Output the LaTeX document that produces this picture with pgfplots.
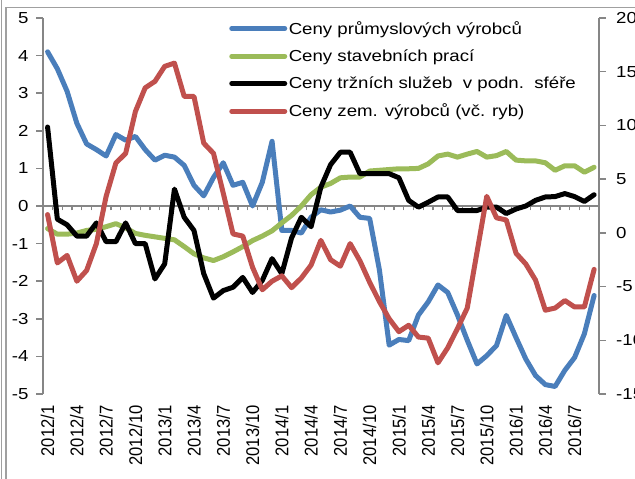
\documentclass[border=0pt]{standalone}
\usepackage{fontspec}
\setmainfont{Liberation Sans}[FakeStretch=1.17]
\newfontfamily\xlabfont{Liberation Sans}[FakeStretch=0.9]
\usepackage{pgfplots}
\pgfplotsset{compat=1.18}
\usepackage{pgfplotstable}
\definecolor{cblue}{RGB}{74,126,187}
\definecolor{cgreen}{RGB}{155,187,89}
\definecolor{cred}{RGB}{192,80,77}
\definecolor{caxis}{RGB}{134,134,134}
\definecolor{cframe}{RGB}{160,160,160}
\pgfplotstableread{
i blue green black red
0 4.10 -0.60 2.10 1.7
1 3.65 -0.75 -0.35 -2.8
2 3.05 -0.75 -0.50 -2.1
3 2.20 -0.72 -0.80 -4.5
4 1.65 -0.65 -0.80 -3.5
5 1.50 -0.62 -0.45 -1.0
6 1.33 -0.55 -0.95 3.4
7 1.90 -0.47 -0.95 6.5
8 1.75 -0.58 -0.45 7.4
9 1.85 -0.73 -1.00 11.3
10 1.50 -0.78 -1.00 13.5
11 1.22 -0.82 -1.94 14.1
12 1.35 -0.86 -1.54 15.5
13 1.30 -0.90 0.45 15.8
14 1.08 -1.08 -0.30 12.7
15 0.55 -1.27 -0.65 12.7
16 0.27 -1.38 -1.80 8.35
17 0.76 -1.45 -2.45 7.4
18 1.15 -1.35 -2.25 3.7
19 0.55 -1.22 -2.16 -0.1
20 0.63 -1.08 -1.90 -0.3
21 0.00 -0.92 -2.30 -3.2
22 0.63 -0.80 -1.98 -5.3
23 1.72 -0.66 -1.40 -4.5
24 -0.65 -0.45 -1.80 -4.0
25 -0.65 -0.25 -0.85 -5.1
26 -0.72 0.00 -0.30 -4.2
27 -0.30 0.30 -0.55 -3.0
28 -0.10 0.50 0.50 -0.7
29 -0.16 0.60 1.10 -2.5
30 -0.11 0.75 1.43 -3.1
31 0.00 0.77 1.43 -1.0
32 -0.30 0.77 0.86 -2.6
33 -0.33 0.93 0.86 -4.6
34 -1.70 0.95 0.86 -6.4
35 -3.70 0.97 0.86 -8.0
36 -3.55 0.99 0.75 -9.2
37 -3.58 0.99 0.15 -8.6
38 -2.90 1.00 -0.03 -9.7
39 -2.55 1.12 0.10 -9.8
40 -2.10 1.33 0.24 -12.1
41 -2.30 1.38 0.24 -10.7
42 -2.90 1.30 -0.12 -8.9
43 -3.57 1.38 -0.12 -7.0
44 -4.20 1.45 -0.12 -1.8
45 -3.98 1.30 -0.03 3.4
46 -3.71 1.34 -0.03 1.4
47 -2.91 1.45 -0.20 1.2
48 -3.50 1.22 -0.08 -1.9
49 -4.07 1.20 0.00 -2.9
50 -4.51 1.20 0.15 -4.4
51 -4.75 1.15 0.24 -7.2
52 -4.80 0.95 0.25 -7.0
53 -4.37 1.07 0.33 -6.3
54 -4.03 1.07 0.25 -6.9
55 -3.40 0.90 0.12 -6.9
56 -2.38 1.03 0.30 -3.4
}\data
\pgfplotsset{
  base/.style={
    scale only axis, width=556.3bp, height=376bp,
    at={(42.7bp,85bp)}, anchor=south west,
    xmin=-0.5, xmax=56.5,
    tick label style={font=\fontsize{16}{19}\selectfont},
  },
  serie/.style={line width=5bp, line join=round, line cap=round, mark=none},
}
\begin{document}
\begin{tikzpicture}
% frame
\draw[cframe, line width=1.2bp] (1.7bp,0bp) -- (1.7bp,479bp);
\draw[cframe, line width=1.2bp] (6bp,0bp) -- (6bp,471.5bp) -- (640bp,471.5bp);
% zero line with month ticks
\begin{axis}[base, ymin=-5, ymax=5,
  axis x line=middle, axis y line=none,
  axis line style={caxis, line width=2bp, -},
  xtick={-0.5,0.5,...,56.5}, xticklabels={},
  xtick align=outside, major tick length=4.5bp,
  xtick style={caxis, line width=1.3bp}]
\end{axis}
% left axis
\begin{axis}[base, ymin=-5, ymax=5,
  axis x line*=bottom, x axis line style={draw=none},
  xtick={0,3,...,54},
  xticklabels={2012/1,2012/4,2012/7,2012/10,2013/1,2013/4,2013/7,2013/10,2014/1,2014/4,2014/7,2014/10,2015/1,2015/4,2015/7,2015/10,2016/1,2016/4,2016/7},
  xtick style={draw=none},
  xticklabel style={font=\xlabfont\fontsize{18.5}{20}\selectfont, rotate=90, anchor=east},
  xticklabel shift=8bp,
  axis y line*=left, y axis line style={caxis, line width=2bp},
  ytick={-5,...,5},
  yticklabels={-5,-4,-3,-2,-1,0,1,2,3,4,5},
  ytick align=outside, major tick length=6.7bp,
  ytick style={caxis, line width=1.5bp},
  yticklabel shift=4bp]
\addplot[serie, cblue] table[x=i, y=blue] {\data};
\addplot[serie, cgreen] table[x=i, y=green] {\data};
\addplot[serie, black] table[x=i, y=black] {\data};
\end{axis}
% right axis
\begin{axis}[base, ymin=-15, ymax=20,
  axis x line=none,
  axis y line*=right, y axis line style={caxis, line width=2bp},
  ytick={-15,-10,...,20},
  yticklabels={-15,-10,-5,0,5,10,15,20},
  ytick align=outside, major tick length=6.7bp,
  ytick style={caxis, line width=1.5bp},
  yticklabel shift=7bp,
  legend style={at={(axis description cs:0.335,0.997)}, anchor=north west,
    draw=none, fill=none, inner sep=0pt, row sep=10bp,
    nodes={inner xsep=1.5bp},
    font=\fontsize{16}{19}\selectfont},
  legend cell align=left,
  legend image code/.code={\draw[#1, line width=5bp, line cap=round] (0bp,0bp) -- (53bp,0bp);}]
\addlegendimage{cblue}
\addlegendentry{Ceny průmyslových výrobců}
\addlegendimage{cgreen}
\addlegendentry{Ceny stavebních prací}
\addlegendimage{black}
\addlegendentry{Ceny tržních služeb\ \ v podn.\ \ sféře}
\addplot[serie, cred] table[x=i, y=red] {\data};
\addlegendentry{Ceny zem. výrobců (vč. ryb)}
\end{axis}
\pgfresetboundingbox
\path[use as bounding box] (0bp,0bp) rectangle (635bp,479bp);
\end{tikzpicture}
\end{document}
